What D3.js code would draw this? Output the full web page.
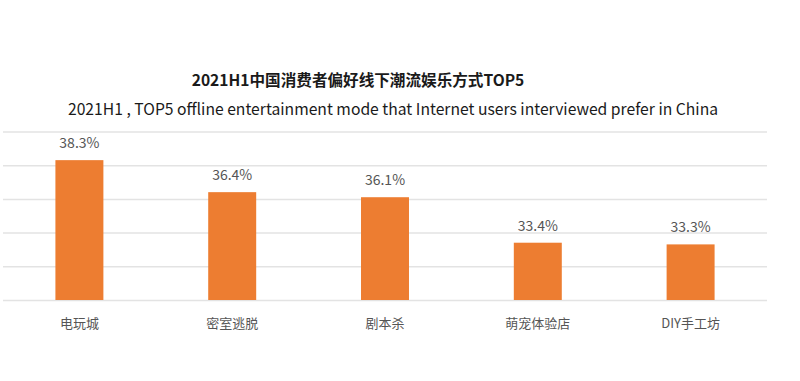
<!DOCTYPE html>
<html>
<head>
<meta charset="UTF-8">
<script src="https://cdn.jsdelivr.net/npm/d3@7"></script>
<style>
  body { margin: 0; background: #fff; }
  svg text { font-family: "Noto Sans CJK SC", "Noto Sans", sans-serif; }
  .grid line { stroke: #e3e3e3; stroke-width: 1.5; }
  .grid path { display: none; }
</style>
</head>
<body>
<svg width="800" height="381"></svg>
<script>
// data
var categories = ["电玩城", "密室逃脱", "剧本杀", "萌宠体验店", "DIY手工坊"];
var values = [38.3, 36.4, 36.1, 33.4, 33.3];
var yTicks = [30, 32, 34, 36, 38, 40];

var svg = d3.select("svg");

var x = d3.scaleBand().domain(categories).range([3, 767]).paddingInner(0.686).paddingOuter(0.343);
var y = d3.scaleLinear().domain([30, 40]).range([300, 131.5]);

// gridlines
svg.append("g")
    .attr("class", "grid")
    .attr("transform", "translate(3,0)")
    .call(d3.axisLeft(y).tickValues(yTicks).tickSize(-764).tickFormat(""));

svg.selectAll(".bar")
  .data(values)
  .enter().append("rect")
    .attr("class", "bar")
    .attr("x", function(d, i) { return x(categories[i]); })
    .attr("y", function(d) { return y(d); })
    .attr("width", x.bandwidth())
    .attr("height", function(d) { return y(30) - y(d); })
    .attr("fill", "#ed7d31");

svg.selectAll(".val")
  .data(values)
  .enter().append("text")
    .attr("x", function(d, i) { return x(categories[i]) + x.bandwidth() / 2; })
    .attr("y", function(d) { return y(d) - 12; })
    .attr("text-anchor", "middle")
    .attr("font-size", 14)
    .attr("fill", "#555")
    .text(function(d) { return d.toFixed(1) + "%"; });

svg.selectAll(".cat")
  .data(categories)
  .enter().append("text")
    .attr("x", function(d) { return x(d) + x.bandwidth() / 2; })
    .attr("y", 328)
    .attr("text-anchor", "middle")
    .attr("font-size", 13)
    .attr("fill", "#555")
    .text(function(d) { return d; });

svg.append("text")
    .attr("x", 358)
    .attr("y", 86)
    .attr("text-anchor", "middle")
    .attr("font-size", 15.6)
    .attr("font-weight", "bold")
    .attr("fill", "#1a1a1a")
    .text("2021H1中国消费者偏好线下潮流娱乐方式TOP5");

svg.append("text")
    .attr("x", 393)
    .attr("y", 115)
    .attr("text-anchor", "middle")
    .attr("font-size", 15.7)
    .attr("fill", "#1a1a1a")
    .text("2021H1 , TOP5 offline entertainment mode that Internet users interviewed prefer in China");
</script>
</body>
</html>
